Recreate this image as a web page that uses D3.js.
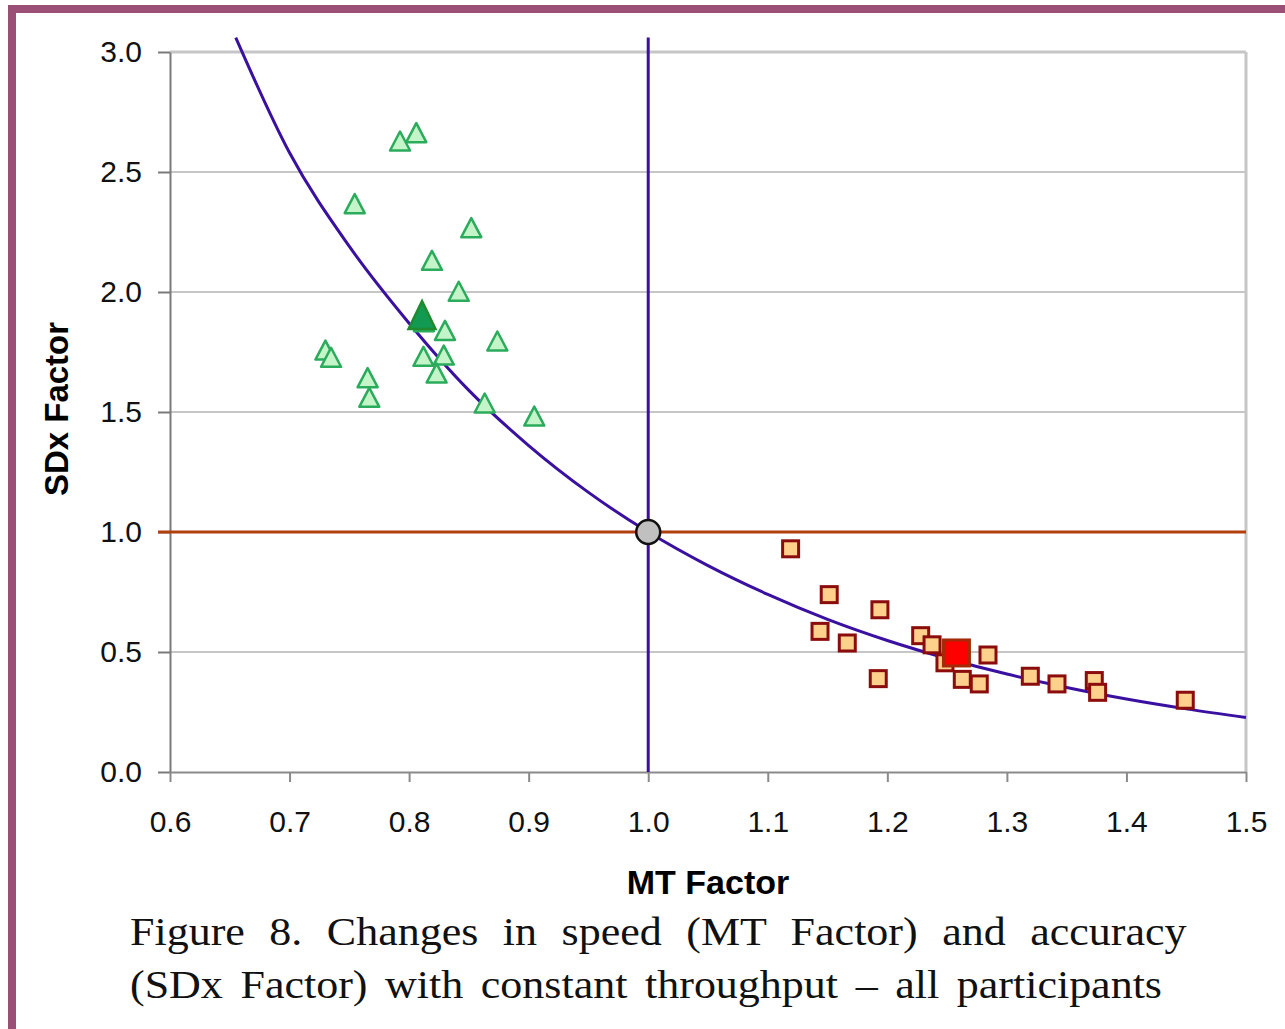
<!DOCTYPE html>
<html>
<head>
<meta charset="utf-8">
<script src="https://cdn.jsdelivr.net/npm/d3@7"></script>
<style>
  body { margin: 0; background: #fff; }
  svg { display: block; }
  .tick text { font-family: "Liberation Sans", Arial, sans-serif; font-size: 30px; fill: #111; }
</style>
</head>
<body>
<div id="container"></div>
<script>
var width = 1285;
var height = 1029;

// data
var fastMT  = [0.806, 0.7924, 0.7545, 0.852, 0.8191, 0.8415, 0.8124, 0.830, 0.8738, 0.730, 0.7347, 0.812, 0.829, 0.823, 0.7653, 0.7667, 0.8632, 0.9047];
var fastSDx = [2.664, 2.629, 2.368, 2.268, 2.132, 2.003, 1.876, 1.840, 1.796, 1.758, 1.728, 1.732, 1.737, 1.662, 1.643, 1.561, 1.5375, 1.483];
var fastMean = [0.8108, 1.904];

var slowMT  = [1.1191, 1.1514, 1.1938, 1.1437, 1.1665, 1.2279, 1.2374, 1.2482, 1.2842, 1.1924, 1.2627, 1.2769, 1.3196, 1.3419, 1.3731, 1.3759, 1.4492];
var slowSDx = [0.930, 0.739, 0.676, 0.586, 0.5375, 0.568, 0.530, 0.455, 0.4875, 0.389, 0.386, 0.367, 0.399, 0.367, 0.381, 0.332, 0.299];
var slowMean = [1.2578, 0.496];

// constant-throughput curve, sampled from the figure
var curveMT  = [0.655, 0.70, 0.75, 0.80, 0.85, 0.90, 0.95, 1.00, 1.05, 1.10, 1.15, 1.20, 1.25, 1.30, 1.35, 1.40, 1.45, 1.50];
var curveSDx = [3.06, 2.58, 2.19, 1.87, 1.59, 1.36, 1.165, 1.00, 0.86, 0.74, 0.636, 0.548, 0.473, 0.408, 0.352, 0.304, 0.263, 0.227];

var xTicks = [0.6, 0.7, 0.8, 0.9, 1.0, 1.1, 1.2, 1.3, 1.4, 1.5];
var yTicks = [0.0, 0.5, 1.0, 1.5, 2.0, 2.5, 3.0];

var captionLines = [
  "Figure 8. Changes in speed (MT Factor) and accuracy",
  "(SDx Factor) with constant throughput \u2013 all participants"
];
var captionWordGap = [12.3, 6.0];

var svg = d3.select("div#container").append("svg")
    .attr("width", width)
    .attr("height", height);

// page frame (purple edge at top and left)
svg.append("rect").attr("x", 8).attr("y", 5).attr("width", width).attr("height", 8).attr("fill", "#9b4f76");
svg.append("rect").attr("x", 8).attr("y", 5).attr("width", 8).attr("height", height).attr("fill", "#9b4f76");

var x = d3.scaleLinear().domain([0.6, 1.5]).range([170, 1246]);
var y = d3.scaleLinear().domain([0, 3]).range([772, 52]);

// gridlines
svg.append("g").selectAll("line")
    .data(yTicks.filter(function(d) { return d > 0; }))
    .enter().append("line")
    .attr("x1", x(0.6)).attr("x2", x(1.5))
    .attr("y1", function(d) { return y(d); })
    .attr("y2", function(d) { return y(d); })
    .attr("stroke", "#c6c6c6")
    .attr("stroke-width", function(d) { return d === 3 ? 3 : 2; });

// right edge of plot area
svg.append("line")
    .attr("x1", x(1.5)).attr("x2", x(1.5))
    .attr("y1", y(3)).attr("y2", y(0))
    .attr("stroke", "#c6c6c6").attr("stroke-width", 3);

// axes
var yAxis = svg.append("g")
    .attr("transform", "translate(" + x(0.6) + ",0)")
    .call(d3.axisLeft(y).tickValues(yTicks).tickFormat(d3.format(".1f")).tickSize(12).tickSizeOuter(0).tickPadding(16));
var xAxis = svg.append("g")
    .attr("transform", "translate(0," + y(0) + ")")
    .call(d3.axisBottom(x).tickValues(xTicks).tickFormat(d3.format(".1f")).tickSize(10).tickSizeOuter(0).tickPadding(29));
yAxis.selectAll("line, path").attr("stroke", "#7a7a7a").attr("stroke-width", 2);
xAxis.selectAll("line, path").attr("stroke", "#8a8a8a").attr("stroke-width", 2);

// reference lines at 1.0
svg.append("line")
    .attr("x1", x(0.6) - 12).attr("x2", x(1.5))
    .attr("y1", y(1)).attr("y2", y(1))
    .attr("stroke", "#b0400f").attr("stroke-width", 3);
svg.append("line")
    .attr("x1", x(1)).attr("x2", x(1))
    .attr("y1", y(curveSDx[0])).attr("y2", y(0))
    .attr("stroke", "#3a10a0").attr("stroke-width", 3);

// curve
var line = d3.line()
    .x(function(d) { return x(d[0]); })
    .y(function(d) { return y(d[1]); })
    .curve(d3.curveMonotoneX);
svg.append("path")
    .datum(d3.zip(curveMT, curveSDx))
    .attr("d", line)
    .attr("fill", "none")
    .attr("stroke", "#3a10a0")
    .attr("stroke-width", 3);

function tri(w, h) {
  return "M0," + (-h / 2) + "L" + (w / 2) + "," + (h / 2) + "L" + (-w / 2) + "," + (h / 2) + "Z";
}

// fast condition (triangles)
svg.append("g").selectAll("path")
    .data(d3.zip(fastMT, fastSDx))
    .enter().append("path")
    .attr("d", tri(20, 19))
    .attr("transform", function(d) { return "translate(" + x(d[0]) + "," + y(d[1]) + ")"; })
    .attr("fill", "#c4f5c8")
    .attr("stroke", "#2bab5c")
    .attr("stroke-width", 2.5)
    .attr("stroke-linejoin", "round");

// slow condition (squares)
svg.append("g").selectAll("rect")
    .data(d3.zip(slowMT, slowSDx))
    .enter().append("rect")
    .attr("x", function(d) { return x(d[0]) - 8; })
    .attr("y", function(d) { return y(d[1]) - 8; })
    .attr("width", 16).attr("height", 16)
    .attr("fill", "#fdd08c")
    .attr("stroke", "#8b0c0c")
    .attr("stroke-width", 3);

// means
svg.append("path")
    .attr("d", tri(27, 28))
    .attr("transform", "translate(" + x(fastMean[0]) + "," + y(fastMean[1]) + ")")
    .attr("fill", "#129a52")
    .attr("stroke", "#1f8a2e")
    .attr("stroke-width", 2.5);
svg.append("rect")
    .attr("x", x(slowMean[0]) - 13).attr("y", y(slowMean[1]) - 13)
    .attr("width", 26).attr("height", 26)
    .attr("fill", "#ff0000")
    .attr("stroke", "#a42a0a")
    .attr("stroke-width", 3);

// neutral point
svg.append("circle")
    .attr("cx", x(1)).attr("cy", y(1)).attr("r", 12)
    .attr("fill", "#c0c0c0")
    .attr("stroke", "#111")
    .attr("stroke-width", 2.5);

// axis titles
svg.append("text")
    .attr("x", 708).attr("y", 894)
    .attr("text-anchor", "middle")
    .style("font-family", "'Liberation Sans', Arial, sans-serif")
    .style("font-weight", "bold")
    .style("font-size", "34px")
    .text("MT Factor");
svg.append("text")
    .attr("transform", "translate(68,409) rotate(-90)")
    .attr("text-anchor", "middle")
    .style("font-family", "'Liberation Sans', Arial, sans-serif")
    .style("font-weight", "bold")
    .style("font-size", "33px")
    .text("SDx Factor");

// caption: narrow serif glyphs, justified first line
svg.append("g").selectAll("text")
    .data(captionLines)
    .enter().append("text")
    .attr("transform", function(d, i) { return "translate(130," + (945 + i * 53) + ") scale(1.1,1)"; })
    .style("word-spacing", function(d, i) { return captionWordGap[i] + "px"; })
    .style("font-family", "'Liberation Serif', 'Times New Roman', serif")
    .style("font-size", "40px")
    .style("fill", "#111")
    .text(function(d) { return d; });
</script>
</body>
</html>
